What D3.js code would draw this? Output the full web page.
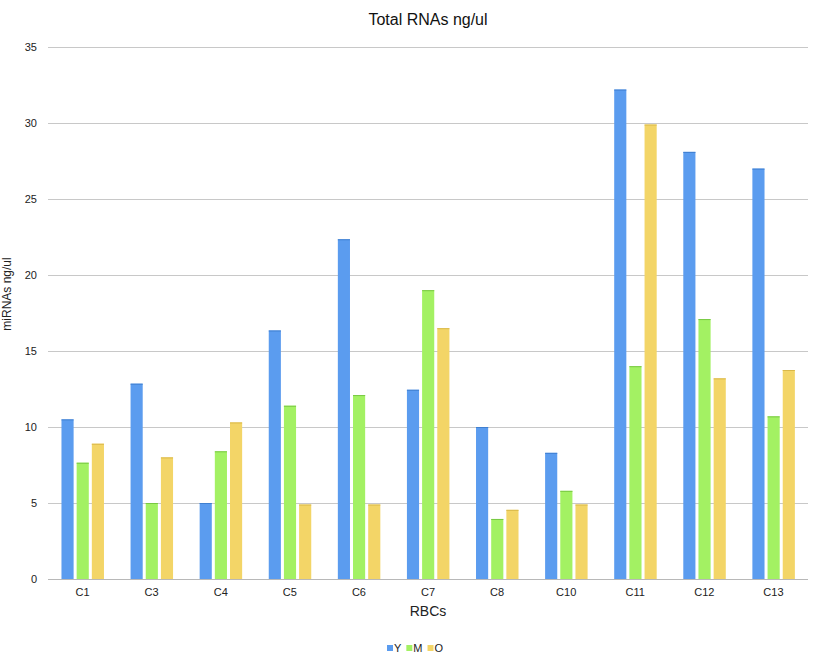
<!DOCTYPE html>
<html>
<head>
<meta charset="utf-8">
<script src="https://cdn.jsdelivr.net/npm/d3@7"></script>
<style>
  html, body { margin: 0; padding: 0; background: #ffffff; }
  svg { display: block; font-family: "Liberation Sans", Arial, Helvetica, sans-serif; }
</style>
</head>
<body>
<svg id="chart" width="814" height="657"></svg>
<script>
const categories = ["C1", "C3", "C4", "C5", "C6", "C7", "C8", "C10", "C11", "C12", "C13"];
const seriesNames = ["Y", "M", "O"];
const valuesY = [10.5, 12.85, 5.0, 16.35, 22.35, 12.45, 10.0, 8.3, 32.2, 28.1, 27.0];
const valuesM = [7.65, 5.0, 8.4, 11.4, 12.1, 19.0, 3.95, 5.8, 14.0, 17.1, 10.7];
const valuesO = [8.9, 8.0, 10.3, 4.9, 4.9, 16.5, 4.55, 4.9, 29.9, 13.2, 13.75];
const yTicks = [0, 5, 10, 15, 20, 25, 30, 35];
const titleText = "Total RNAs ng/ul";
const xTitle = "RBCs";
const yTitle = "miRNAs ng/ul";

const fills = { Y: "#5b9cef", M: "#a3f163", O: "#f3d567" };
const edges = { Y: "#3f7fd0", M: "#78c843", O: "#d9b849" };

const svg = d3.select("#chart");
const plotLeft = 48, plotRight = 808, plotTop = 47, plotBottom = 579;

const x0 = d3.scaleBand().domain(categories).range([plotLeft, plotRight]).paddingInner(0).paddingOuter(0);
const bw = x0.bandwidth();
const x1 = d3.scaleBand().domain(seriesNames).range([bw * 0.195, bw * 0.81]).paddingInner(0.2).paddingOuter(0);
const y = d3.scaleLinear().domain([0, 35]).range([plotBottom, plotTop]);

// gridlines
svg.append("g")
  .selectAll("line")
  .data(yTicks)
  .join("line")
  .attr("x1", plotLeft).attr("x2", plotRight)
  .attr("y1", d => Math.round(y(d)) + 0.5).attr("y2", d => Math.round(y(d)) + 0.5)
  .attr("stroke", d => d === 0 ? "#b8b8b8" : "#c8c8c8")
  .attr("stroke-width", 1);

// y tick labels
const yAxis = d3.axisLeft(y).tickValues(yTicks).tickSize(0).tickPadding(0);
const gy = svg.append("g").attr("transform", `translate(${plotLeft - 11},0)`).call(yAxis);
gy.select(".domain").remove();
gy.selectAll("text").attr("font-size", 11).attr("fill", "#222").attr("font-family", "Liberation Sans, Arial, sans-serif");

// bars
const data = categories.map((c, i) => ({ cat: c, vals: [
  { s: "Y", v: valuesY[i] }, { s: "M", v: valuesM[i] }, { s: "O", v: valuesO[i] }
]}));

const groups = svg.append("g").selectAll("g")
  .data(data).join("g")
  .attr("transform", d => `translate(${x0(d.cat)},0)`);

groups.selectAll("rect.bar")
  .data(d => d.vals).join("rect")
  .attr("class", "bar")
  .attr("x", d => x1(d.s))
  .attr("width", x1.bandwidth())
  .attr("y", d => y(d.v))
  .attr("height", d => plotBottom - y(d.v))
  .attr("fill", d => fills[d.s]);

// thin darker top edge
groups.selectAll("line.topedge")
  .data(d => d.vals).join("line")
  .attr("class", "topedge")
  .attr("x1", d => x1(d.s)).attr("x2", d => x1(d.s) + x1.bandwidth())
  .attr("y1", d => y(d.v) + 0.5).attr("y2", d => y(d.v) + 0.5)
  .attr("stroke", d => edges[d.s]).attr("stroke-width", 1);

// x axis labels
const xAxis = d3.axisBottom(x0).tickSize(0).tickPadding(0);
const gx = svg.append("g").attr("transform", `translate(0,${plotBottom + 9})`).call(xAxis);
gx.select(".domain").remove();
gx.selectAll("text").attr("font-size", 11).attr("fill", "#222").attr("font-family", "Liberation Sans, Arial, sans-serif");

// title
svg.append("text")
  .attr("x", (plotLeft + plotRight) / 2).attr("y", 25)
  .attr("text-anchor", "middle")
  .attr("font-size", 16).attr("fill", "#111")
  .text(titleText);

// x title
svg.append("text")
  .attr("x", (plotLeft + plotRight) / 2).attr("y", 616)
  .attr("text-anchor", "middle")
  .attr("font-size", 14).attr("fill", "#222")
  .text(xTitle);

// y title
svg.append("text")
  .attr("transform", "translate(11,294) rotate(-90)")
  .attr("text-anchor", "middle")
  .attr("font-size", 12).attr("fill", "#222")
  .text(yTitle);

// legend
const legend = svg.append("g").attr("transform", "translate(387,652)");
let lx = 0;
seriesNames.forEach(s => {
  const g = legend.append("g").attr("transform", `translate(${lx},0)`);
  g.append("rect").attr("x", 0).attr("y", -7).attr("width", 6).attr("height", 6).attr("fill", fills[s]);
  const t = g.append("text").attr("x", 7).attr("y", 0).attr("font-size", 11).attr("fill", "#222").text(s);
  const w = t.node().getComputedTextLength();
  lx += 7 + w + 5;
});
</script>
</body>
</html>
